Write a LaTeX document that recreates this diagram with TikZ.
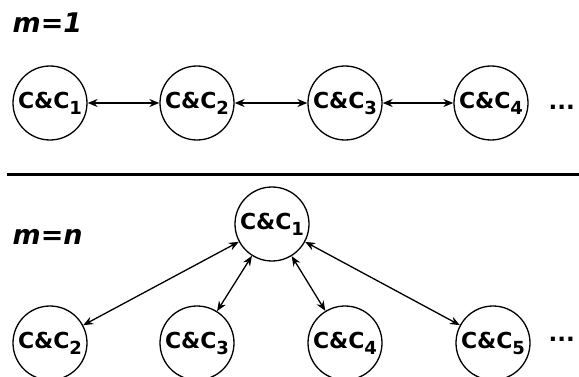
\documentclass[tikz,border=0pt]{standalone}
\usepackage{fontspec}
\setmainfont{DejaVu Sans}
\usetikzlibrary{arrows.meta}

\newcommand{\cc}[1]{C\&C\raisebox{-6pt}{\fontsize{18pt}{18pt}\selectfont #1}}

\begin{document}
\begin{tikzpicture}[x=1pt,y=-1pt,line width=1.3pt,
    ccnode/.style={draw,circle,inner sep=0pt,minimum size=74pt,
      font=\fontsize{22pt}{22pt}\selectfont\bfseries},
    link/.style={{Stealth[length=10pt,width=8pt]}-{Stealth[length=10pt,width=8pt]}},
    mlabel/.style={anchor=base west,inner sep=0pt,
      font=\fontsize{27pt}{27pt}\selectfont\bfseries\itshape},
    dots/.style={inner sep=0pt,font=\fontsize{23pt}{23pt}\selectfont\bfseries}]
  \useasboundingbox (0,0) rectangle (579,377);
  \begin{scope}
  \clip (0,0) rectangle (579,377);

  % m = 1 : chain
  \node[mlabel] (mone) at (12,33) {m=1};
  \node[ccnode] (a1) at (50,103) {\cc{1}};
  \node[ccnode] (a2) at (197,103) {\cc{2}};
  \node[ccnode] (a3) at (345,103) {\cc{3}};
  \node[ccnode] (a4) at (491,103) {\cc{4}};
  \node[dots,anchor=base west] (adots) at (548,110) {...};

  \path (a1) edge [link] (a2);
  \path (a2) edge [link] (a3);
  \path (a3) edge [link] (a4);

  \draw[line width=3pt] (7,175) -- (579,175);

  % m = n : star
  \node[mlabel] (mn) at (12,245) {m=n};
  \node[ccnode] (b1) at (272,224) {\cc{1}};
  \node[ccnode] (b2) at (50,343) {\cc{2}};
  \node[ccnode] (b3) at (197,343) {\cc{3}};
  \node[ccnode] (b4) at (345,343) {\cc{4}};
  \node[ccnode] (b5) at (493,343) {\cc{5}};
  \node[dots,anchor=base west] (bdots) at (548,341) {...};

  \path (b1) edge [link] (b2);
  \path (b1) edge [link] (b3);
  \path (b1) edge [link] (b4);
  \path (b1) edge [link] (b5);
  \end{scope}
\end{tikzpicture}
\end{document}
